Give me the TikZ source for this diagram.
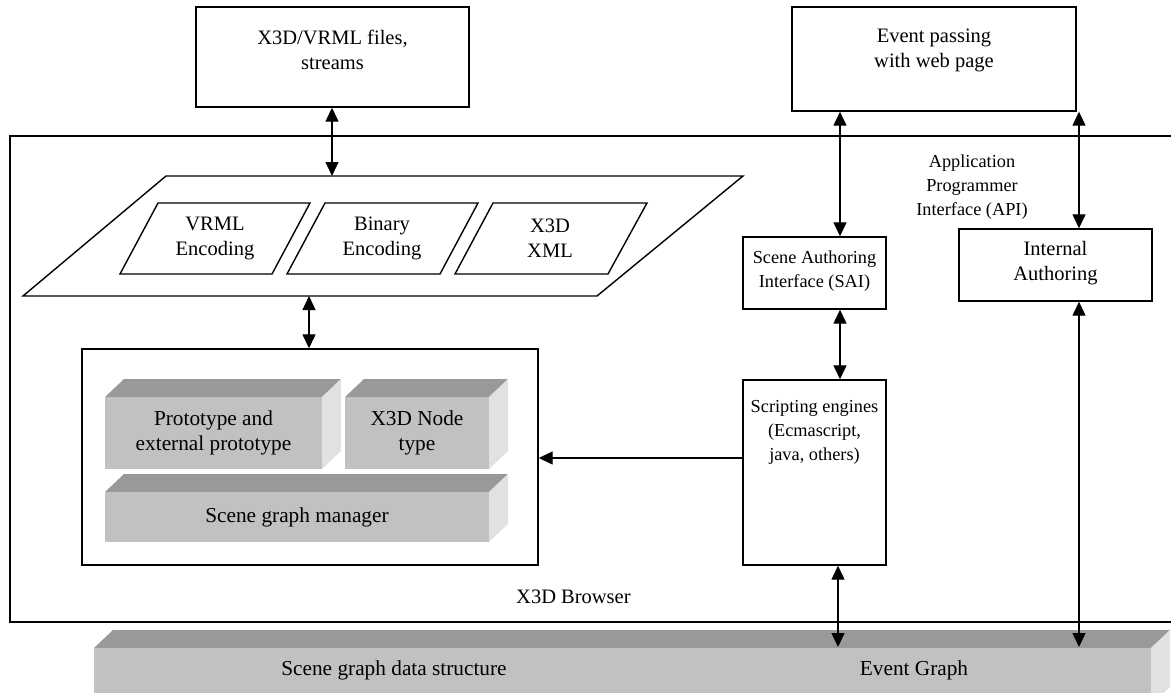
\documentclass[tikz,border=0pt]{standalone}
\usepackage{fontspec}
\setmainfont{Liberation Serif}
\usetikzlibrary{arrows.meta}
\definecolor{frontc}{RGB}{193,193,193}
\definecolor{topc}{RGB}{153,153,153}
\definecolor{sidec}{RGB}{225,225,225}
\newcommand\blockthree[6]{%
  \fill[topc] (#1,#2) -- ({#1+19},{#2-18}) -- ({#3+19},{#2-18}) -- (#3,#2) -- cycle;
  \fill[sidec] (#3,#2) -- ({#3+19},{#2-18}) -- ({#3+19},{#4-18}) -- (#3,#4) -- cycle;
  \fill[frontc] (#1,#2) rectangle (#3,#4);
  \node[bigtxt] (#5) at ({(#1+#3)/2},{(#2+#4)/2}) {#6};
}
\begin{document}
\begin{tikzpicture}[x=1pt,y=-1pt,
  txt/.style={align=center,font=\fontsize{20.5}{25}\selectfont,inner sep=0pt},
  bigtxt/.style={align=center,font=\fontsize{21.3}{25}\selectfont,inner sep=0pt},
  smalltxt/.style={align=center,font=\fontsize{18.3}{24}\selectfont,inner sep=0pt},
  box/.style={draw,line width=1.4pt,inner sep=0pt},
  outline/.style={draw,line width=1.4pt,line join=miter},
  arr/.style={line width=1.3pt,{Triangle[length=14pt,width=13pt]}-{Triangle[length=14pt,width=13pt]}},
  arrone/.style={line width=1.3pt,-{Triangle[length=14pt,width=13pt]}}]
\useasboundingbox (0,0) rectangle (1171,693);

% browser frame
\draw[line width=2.2pt] (10,136) rectangle (1180,622);

% top boxes
\node[box,minimum width=273pt,minimum height=100pt] (files) at (332.5,57) {};
\node[txt] (filestxt) at (332.5,50) {X3D/VRML files,\\streams};
\node[box,minimum width=284pt,minimum height=104pt] (event) at (934,59) {};
\node[txt] (eventtxt) at (934,50) {Event passing\\with web page};

% API label
\node[smalltxt] (api) at (972,187) {Application\\Programmer\\Interface (API)};

% encodings parallelogram
\draw[outline] (23,296) -- (166,176) -- (743,176) -- (597,296) -- cycle;
\draw[outline] (120,274) -- (158,203) -- (310,203) -- (272,274) -- cycle;
\draw[outline] (287,274) -- (325,203) -- (478,203) -- (440,274) -- cycle;
\draw[outline] (455,274) -- (493,203) -- (647,203) -- (608,274) -- cycle;
\node[txt] (vrml) at (215,238) {VRML\\Encoding};
\node[txt] (binary) at (382,238) {Binary\\Encoding};
\node[txt] (x3dxml) at (550,238) {X3D\\XML};
\coordinate (paratop) at (332,176);
\coordinate (parabot) at (309,296);

% manager box
\node[box,minimum width=456pt,minimum height=216pt] (mgr) at (310,457) {};
\blockthree{105}{397}{322}{469}{proto}{Prototype and\\external prototype}
\blockthree{345}{397}{489}{469}{nodetype}{X3D Node\\type}
\blockthree{105}{492}{489}{542}{sgm}{Scene graph manager}

% right boxes
\node[box,minimum width=143pt,minimum height=72pt] (sai) at (814.5,273) {};
\node[smalltxt] (saitxt) at (814.5,271) {Scene Authoring\\Interface (SAI)};
\node[box,minimum width=193pt,minimum height=72pt] (internal) at (1055.5,265) {};
\node[txt] (internaltxt) at (1055.5,263) {Internal\\Authoring};
\node[box,minimum width=143pt,minimum height=185pt] (script) at (814.5,472.5) {};
\node[smalltxt] (scripttxt) at (814.5,432) {Scripting engines\\(Ecmascript,\\java, others)};

\node[txt,anchor=base west] (browser) at (516,603) {X3D Browser};

% bottom bar
\blockthree{94}{648}{1151}{705}{sgds}{}
\node[bigtxt] (sgdstxt) at (394,670) {Scene graph data structure};
\node[bigtxt] (evgraph) at (914,670) {Event Graph};

% helper coordinates
\coordinate (xa) at (840,0);
\coordinate (xb) at (838,0);
\coordinate (xc) at (1079,0);
\coordinate (ya) at (0,458);
\coordinate (bartop) at (0,647);

% connectors
\draw[arr] (files.south -| paratop) -- (paratop);
\draw[arr] (parabot) -- (mgr.north -| parabot);
\draw[arr] (event.south -| xa) -- (sai.north -| xa);
\draw[arr] (event.south -| xc) -- (internal.north -| xc);
\draw[arr] (sai.south -| xa) -- (script.north -| xa);
\draw[arrone] (script.west |- ya) -- (mgr.east |- ya);
\draw[arr] (script.south -| xb) -- (bartop -| xb);
\draw[arr] (internal.south -| xc) -- (bartop -| xc);
\end{tikzpicture}
\end{document}
